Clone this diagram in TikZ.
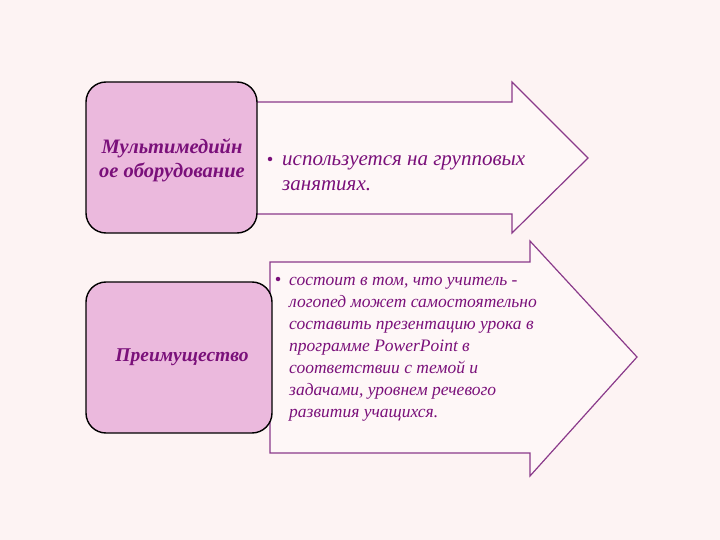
\documentclass[tikz,border=0pt]{standalone}
\usepackage{fontspec}
\setmainfont{Liberation Serif}
\definecolor{bg}{HTML}{FDF3F3}
\definecolor{boxfill}{HTML}{EBB9DD}
\definecolor{arrowfill}{HTML}{FEF7F7}
\definecolor{arrowline}{HTML}{8A3A8A}
\definecolor{txt}{HTML}{7A107A}
\tikzset{
  keybox/.style={draw=black, line width=1.4pt, fill=boxfill, rounded corners=20pt, inner sep=0pt},
  arrowshape/.style={draw=arrowline, line width=1.2pt, fill=arrowfill, line join=miter},
  keytext/.style={text=txt, align=center},
  bodytext/.style={text=txt, align=left, inner sep=0pt, anchor=north west},
  bul/.style={circle, fill=txt, inner sep=0pt, minimum size=4.5pt}
}
\begin{document}
\begin{tikzpicture}[x=1pt,y=-1pt]
\useasboundingbox[fill=bg] (0,0) rectangle (720,540);
% top arrow
\draw[arrowshape] (240,102) -- (512,102) -- (512,82) -- (588,158) -- (512,233) -- (512,214) -- (240,214) -- cycle;
% bottom arrow
\draw[arrowshape] (270,262) -- (530,262) -- (530,241) -- (637,357) -- (530,476) -- (530,453) -- (270,453) -- cycle;
% boxes
\node[keybox, minimum width=171pt, minimum height=151pt] (b1) at (171.5,157.5) {};
\node[keybox, minimum width=186pt, minimum height=151pt] (b2) at (179,357.5) {};
\node[keytext, font=\bfseries\itshape\fontsize{20.5}{24.5}\selectfont] (t1) at (172,160.5) {Мультимедийн\\ое оборудование};
\node[keytext, font=\bfseries\itshape\fontsize{19.5}{24}\selectfont] (t2) at (182,357) {Преимущество};
% top arrow text
\node[bul] (d1) at (270,159) {};
\node[bodytext, font=\itshape\fontsize{21}{25}\selectfont] (a1) at (282,147.5) {\strut используется на групповых\\занятиях.};
% bottom arrow text
\node[bul] (d2) at (278,279) {};
\node[bodytext, font=\itshape\fontsize{17.5}{22}\selectfont] (a2) at (289,269.5) {\strut состоит в том, что учитель -\\логопед может самостоятельно\\составить презентацию урока в\\программе PowerPoint в\\соответствии с темой и\\задачами, уровнем речевого\\развития учащихся.};
\end{tikzpicture}
\end{document}
